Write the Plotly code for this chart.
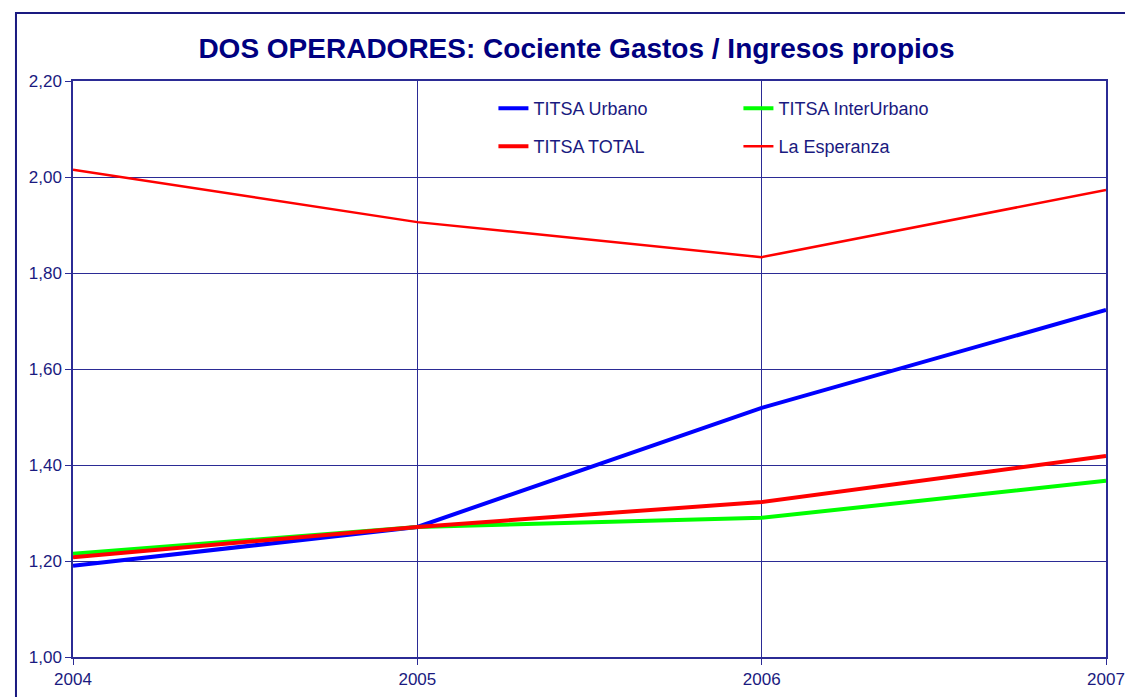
import plotly.graph_objects as go

years = [2004, 2005, 2006, 2007]
urbano = [1.190, 1.271, 1.519, 1.723]
interurbano = [1.215, 1.271, 1.290, 1.367]
total = [1.208, 1.271, 1.323, 1.419]
esperanza = [2.015, 1.906, 1.833, 1.973]

NAVY = "#1a1a80"
GRID = "#2b2b95"
fig = go.Figure()
fig.add_trace(go.Scatter(x=years, y=urbano, mode="lines", name="TITSA Urbano",
                         line=dict(color="#0000ff", width=4), legend="legend"))
fig.add_trace(go.Scatter(x=years, y=interurbano, mode="lines", name="TITSA InterUrbano",
                         line=dict(color="#00ff00", width=4), legend="legend"))
fig.add_trace(go.Scatter(x=years, y=total, mode="lines", name="TITSA TOTAL",
                         line=dict(color="#ff0000", width=4), legend="legend2"))
fig.add_trace(go.Scatter(x=years, y=esperanza, mode="lines", name="La Esperanza",
                         line=dict(color="#ff0000", width=2.5), legend="legend2"))

leg_common = dict(orientation="h", xanchor="left", yanchor="middle",
                  entrywidth=200, entrywidthmode="pixels",
                  bgcolor="rgba(0,0,0,0)", font=dict(size=18, color=NAVY),
                  itemwidth=30, borderwidth=0)

fig.update_layout(
    width=1125, height=697,
    margin=dict(l=73, r=19, t=81, b=40),
    paper_bgcolor="white", plot_bgcolor="white",
    separators=",.",
    font=dict(family="Liberation Sans, Arial, sans-serif", size=17, color=NAVY),
    title=dict(text="<b>DOS OPERADORES: Cociente Gastos / Ingresos propios</b>",
               x=0.5124, xanchor="center", y=0.931, yanchor="middle",
               font=dict(size=28, color="#000080")),
    showlegend=True,
    legend=dict(x=0.407, y=0.952, **leg_common),
    legend2=dict(x=0.407, y=0.886, **leg_common),
    xaxis=dict(range=[2004, 2007], tickvals=years, ticktext=[str(y) for y in years],
               showgrid=True, gridcolor=GRID, gridwidth=1, automargin=False,
               showline=True, linecolor=GRID, linewidth=1.5, mirror=True,
               ticks="outside", ticklen=6, tickcolor=GRID, zeroline=False),
    yaxis=dict(range=[1.0, 2.2], tickvals=[1.0, 1.2, 1.4, 1.6, 1.8, 2.0, 2.2],
               tickformat=".2f", automargin=False,
               showgrid=True, gridcolor=GRID, gridwidth=1,
               showline=True, linecolor=GRID, linewidth=1.5, mirror=True,
               ticks="outside", ticklen=6, tickcolor=GRID, zeroline=False),
)

fig.add_shape(type="rect", xref="paper", yref="paper",
              x0=-0.0552, x1=1.2, y0=-0.3, y1=1.118,
              line=dict(color=NAVY, width=2), layer="below")

fig.write_html("out.html", config={"displayModeBar": False},
               post_script="document.body.style.margin='0px';")
